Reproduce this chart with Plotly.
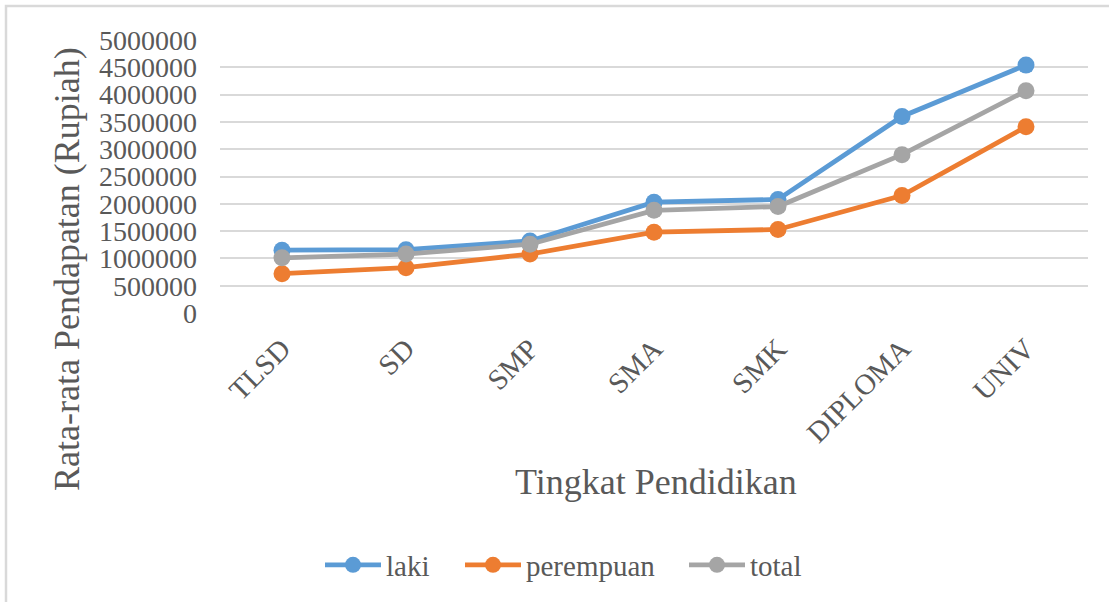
import plotly.graph_objects as go

categories = ["TLSD", "SD", "SMP", "SMA", "SMK", "DIPLOMA", "UNIV"]
laki = [1150000, 1160000, 1320000, 2030000, 2080000, 3600000, 4540000]
perempuan = [720000, 830000, 1080000, 1480000, 1530000, 2150000, 3410000]
total = [1010000, 1080000, 1260000, 1880000, 1950000, 2900000, 4070000]
y_ticks = list(range(0, 5000001, 500000))

colors = {"laki": "#5B9BD5", "perempuan": "#ED7D31", "total": "#A5A5A5"}
FONT = "Liberation Serif"
TXT = "#595959"

W, H = 1109, 602
L, R, T, B = 220, 21, 40, 289

pw = W - L - R
ph = H - T - B

def px_x(x):
    return (x - L) / pw

def px_y(y):
    return (H - B - y) / ph

legend_names = ["legend", "legend2", "legend3"]
legend_starts = [320, 460, 684]

fig = go.Figure()
for i, (name, vals) in enumerate([("laki", laki), ("perempuan", perempuan), ("total", total)]):
    fig.add_trace(go.Scatter(
        x=categories, y=vals, name=name, mode="lines+markers",
        line=dict(color=colors[name], width=4.8),
        marker=dict(color=colors[name], size=17),
        legend=legend_names[i],
    ))

leg_common = dict(
    orientation="h", xanchor="left", y=px_y(565), yanchor="middle",
    font=dict(size=29, color=TXT, family=FONT),
    itemwidth=56, bgcolor="rgba(0,0,0,0)",
)

fig.update_layout(
    width=W, height=H,
    margin=dict(l=L, r=R, t=T, b=B),
    paper_bgcolor="white", plot_bgcolor="white",
    font=dict(family=FONT, color=TXT, size=28),
    showlegend=True,
    legend=dict(x=px_x(legend_starts[0]), **leg_common),
    legend2=dict(x=px_x(legend_starts[1]), **leg_common),
    legend3=dict(x=px_x(legend_starts[2]), **leg_common),
    xaxis=dict(
        type="category", range=[-0.5, 6.5], tickangle=-45,
        showgrid=False, zeroline=False, showline=False,
        ticks="", ticklabelstandoff=12,
        tickfont=dict(size=29, color=TXT, family=FONT),
    ),
    yaxis=dict(
        range=[0, 5000000], tickvals=y_ticks,
        ticktext=[str(v) for v in y_ticks],
        showgrid=True, gridcolor="#D9D9D9", gridwidth=1.5,
        zeroline=False, showline=False, ticks="",
        ticklabelstandoff=22,
        tickfont=dict(size=28, color=TXT, family=FONT),
    ),
    shapes=[dict(
        type="rect", xref="paper", yref="paper",
        x0=px_x(6), x1=px_x(1200), y0=px_y(700), y1=px_y(6),
        line=dict(color="#D9D9D9", width=2.5), fillcolor="rgba(0,0,0,0)",
        layer="below",
    )],
    annotations=[
        dict(text="Tingkat Pendidikan", xref="paper", yref="paper",
             x=px_x(656), y=px_y(482), xanchor="center", yanchor="middle",
             showarrow=False, font=dict(size=36, color=TXT, family=FONT)),
        dict(text="Rata-rata Pendapatan (Rupiah)", xref="paper", yref="paper",
             x=px_x(67), y=px_y(269), xanchor="center", yanchor="middle",
             textangle=-90, showarrow=False,
             font=dict(size=36, color=TXT, family=FONT)),
    ],
)

fig.write_html("out.html", config={"displayModeBar": False},
               post_script="document.body.style.margin='0px';")
